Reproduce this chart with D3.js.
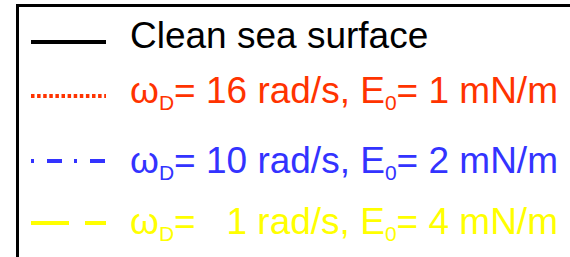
<!DOCTYPE html>
<html>
<head>
<meta charset="utf-8">
<script src="https://cdn.jsdelivr.net/npm/d3@7"></script>
<style>
  html, body { margin: 0; padding: 0; background: #fff; overflow: hidden; }
  text { font-family: "Liberation Sans", Arial, sans-serif; white-space: pre; }
</style>
</head>
<body>
<div id="chart"></div>
<script>
// Legend entries
const labels = ['Clean sea surface', null, null, null];
const omegaD = [null, '16', '10', '  1'];   // rad/s
const E0 = [null, '1', '2', '4'];           // mN/m
const colors = ['#000000', '#ff3300', '#3333ff', '#ffff00'];
const dashes = ['none', '3.5,2.6', '3,13,15,12', '38,16'];

const W = 570, H = 257;
const rowY = [48, 103, 173, 234];  // text baselines
const lineY = [42, 96, 161, 223];
const fontSize = 37, subSize = 21, subShift = 7;

const svg = d3.select('#chart').append('svg')
  .attr('width', W)
  .attr('height', H);

// Box (runs off the right and bottom edges)
svg.append('rect')
  .attr('x', 17.5).attr('y', 5.5)
  .attr('width', W + 20).attr('height', H + 20)
  .attr('fill', '#fff')
  .attr('stroke', '#000')
  .attr('stroke-width', 3);

const x = d3.scaleLinear().domain([0, 1]).range([31, 106]);

const rows = svg.selectAll('g.row')
  .data(colors.map((c, i) => ({ i, c })))
  .join('g')
  .attr('class', 'row');

rows.append('line')
  .attr('x1', x(0)).attr('x2', x(1))
  .attr('y1', d => lineY[d.i])
  .attr('y2', d => lineY[d.i])
  .attr('stroke', d => d.c)
  .attr('stroke-width', 4)
  .attr('stroke-dasharray', d => dashes[d.i]);

rows.each(function (d) {
  const t = d3.select(this).append('text')
    .attr('x', 130)
    .attr('y', rowY[d.i])
    .attr('fill', d.c)
    .attr('font-size', fontSize);
  if (labels[d.i]) {
    t.text(labels[d.i]);
    return;
  }
  t.append('tspan').text('\u03c9');
  t.append('tspan').attr('font-size', subSize).attr('dy', subShift).text('D');
  t.append('tspan').attr('dy', -subShift).text('= ' + omegaD[d.i] + ' rad/s, E');
  t.append('tspan').attr('font-size', subSize).attr('dy', subShift).text('0');
  t.append('tspan').attr('dy', -subShift).text('= ' + E0[d.i] + ' mN/m');
});
</script>
</body>
</html>
